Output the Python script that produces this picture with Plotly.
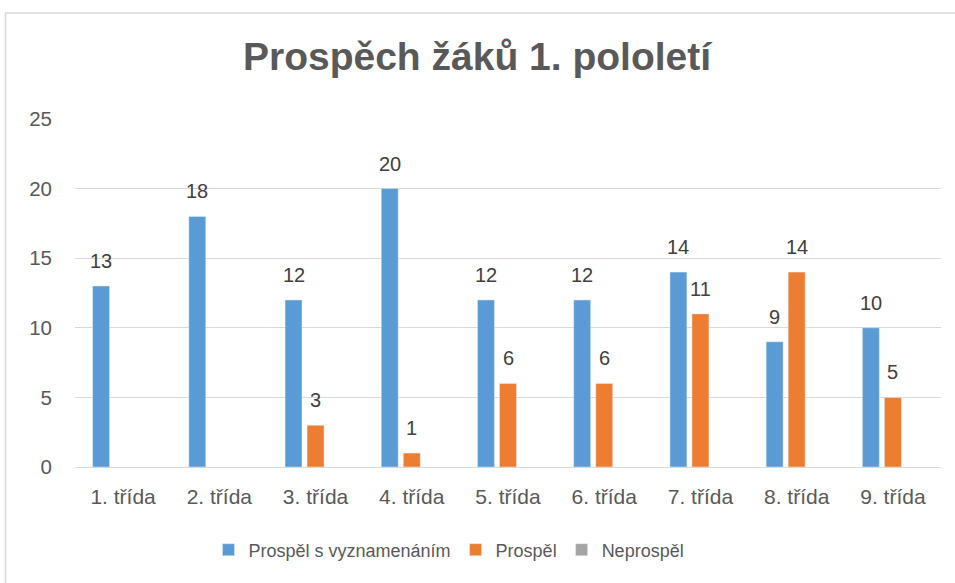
import plotly.graph_objects as go

categories = ["1. třída", "2. třída", "3. třída", "4. třída", "5. třída",
              "6. třída", "7. třída", "8. třída", "9. třída"]
vyznamenani = [13, 18, 12, 20, 12, 12, 14, 9, 10]
prospel = [None, None, 3, 1, 6, 6, 11, 14, 5]
neprospel = [None] * 9

series = [("Prospěl s vyznamenáním", vyznamenani, "#5B9BD5"),
          ("Prospěl", prospel, "#ED7D31"),
          ("Neprospěl", neprospel, "#A5A5A5")]

FONT = "Liberation Sans"
W, H = 955, 583
ML, MR, MT, MB = 75, 14, 119, 116
PW, PH = W - ML - MR, H - MT - MB

def px(x):
    return (x - ML) / PW

def py(y):
    return (H - MB - y) / PH

fig = go.Figure()
annotations = []
for i, (name, vals, col) in enumerate(series):
    fig.add_trace(go.Bar(x=categories, y=vals, name=name, marker_color=col))
    for c, v in zip(categories, vals):
        if v is None:
            continue
        annotations.append(dict(
            x=c, y=v, xref="x", yref="y", text=str(v), showarrow=False,
            xshift=(i - 1) * 22, yshift=25, yanchor="middle",
            font=dict(family=FONT, size=20, color="#404040")))

fig.update_layout(
    width=W, height=H,
    margin=dict(l=ML, r=MR, t=MT, b=MB),
    paper_bgcolor="white", plot_bgcolor="white",
    barmode="group", bargap=0.313, bargroupgap=0.23,
    title=dict(text="<b>Prospěch žáků 1. pololetí</b>", xref="paper",
               x=px(477), xanchor="center",
               y=1 - 56 / H, yanchor="middle",
               font=dict(family=FONT, size=39, color="#595959")),
    font=dict(family=FONT, color="#595959"),
    showlegend=True,
    legend=dict(orientation="h", x=px(449), xanchor="center", y=py(550), yanchor="middle",
                font=dict(family=FONT, size=18, color="#595959"),
                itemwidth=30, traceorder="normal"),
    xaxis=dict(showgrid=False, showline=False, ticks="", ticklabelstandoff=15,
               tickfont=dict(family=FONT, size=21, color="#595959")),
    yaxis=dict(range=[0, 25], dtick=5, showgrid=True, gridcolor="#D9D9D9", gridwidth=1.3,
               zeroline=True, zerolinecolor="#D9D9D9", zerolinewidth=1.3,
               showline=False, ticks="", ticklabelstandoff=22,
               tickfont=dict(family=FONT, size=20.5, color="#595959")),
    annotations=annotations,
    shapes=[dict(type="rect", xref="paper", yref="paper",
                 x0=px(5.5), x1=px(962), y0=py(592), y1=py(13),
                 line=dict(color="#D9D9D9", width=1.5), layer="below")],
)

fig.write_html("out.html", config={"displayModeBar": False},
               post_script="document.body.style.margin='0';")
